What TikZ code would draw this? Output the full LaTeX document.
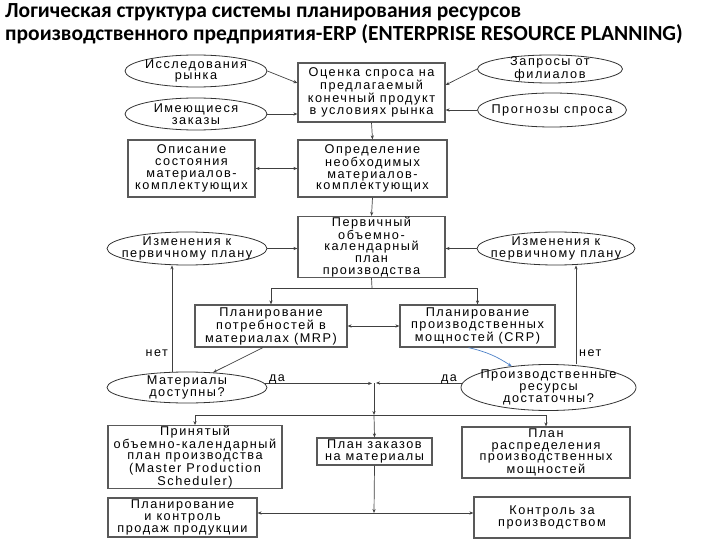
\documentclass[tikz,border=0pt]{standalone}
\usepackage{fontspec}
\setmainfont{Liberation Sans}
\newfontfamily\titlefont{Carlito}
\newfontfamily\diagfont[LetterSpace=12]{Liberation Sans}
\usetikzlibrary{shapes.geometric,arrows.meta,calc}
\definecolor{lineg}{rgb}{0.25,0.25,0.25}
\definecolor{crpblue}{rgb}{0.30,0.50,0.78}
\tikzset{
  txt/.style={font=\diagfont\fontsize{12.7}{11.8}\selectfont, align=center},
  boxn/.style={txt, draw=black!65, line width=1.2pt, fill=white, inner sep=0pt, minimum width=#1},
  elln/.style={txt, ellipse, draw=black!80, line width=0.8pt, fill=white, inner xsep=-40pt, inner ysep=-15pt},
  conn/.style={draw=lineg, line width=0.7pt},
  arr/.style={conn, -{Stealth[length=4pt,width=3.2pt]}},
  darr/.style={conn, {Stealth[length=4pt,width=3.2pt]}-{Stealth[length=4pt,width=3.2pt]}},
  lab/.style={font=\diagfont\fontsize{12.5}{13}\selectfont, inner sep=1pt},
}
\begin{document}
\begin{tikzpicture}[x=1pt,y=-1pt]
\useasboundingbox (0,0) rectangle (720,540);
% title
\node[anchor=north west, inner sep=0pt, align=left, font=\titlefont\bfseries\fontsize{21.5}{23}\selectfont] (title) at (5,3)
  {Логическая структура системы планирования ресурсов\\производственного предприятия-ERP (ENTERPRISE RESOURCE PLANNING)};
% top row
\node[elln, minimum width=142pt, minimum height=32pt] (m1) at (196,71) {Исследования\\рынка};
\node[elln, minimum width=142pt, minimum height=32pt] (m2) at (196,114) {Имеющиеся\\заказы};
\node[boxn=147pt, minimum height=59pt] (est) at (371.5,92.5) {Оценка спроса на\\предлагаемый\\конечный продукт\\в условиях рынка};
\node[elln, minimum width=145pt, minimum height=28pt] (f1) at (550,69) {Запросы от\\филиалов};
\node[elln, minimum width=149pt, minimum height=34pt] (f2) at (552,110) {Прогнозы спроса};
% second row
\node[boxn=127pt, minimum height=57pt] (opis) at (191.5,168.5) {Описание\\состояния\\материалов-\\комплектующих};
\node[boxn=149pt, minimum height=57pt] (opred) at (372.5,168.5) {Определение\\необходимых\\материалов-\\комплектующих};
% third row
\node[boxn=147pt, minimum height=61pt] (perv) at (371.5,247) {Первичный\\объемно-\\календарный\\план\\производства};
\node[elln, minimum width=160pt, minimum height=33pt] (chL) at (187,248.5) {Изменения к\\первичному плану};
\node[elln, minimum width=158pt, minimum height=33pt] (chR) at (556,248.5) {Изменения к\\первичному плану};
% MRP / CRP
\node[boxn=152pt, minimum height=42pt] (mrp) at (271,326) {Планирование\\потребностей в\\материалах (MRP)};
\node[boxn=155pt, minimum height=42pt] (crp) at (477.5,326) {Планирование\\производственных\\мощностей (CRP)};
% decisions
\node[elln, minimum width=160pt, minimum height=31pt] (matav) at (187,387.5) {Материалы\\доступны?};
\node[elln, minimum width=175pt, minimum height=46pt] (resok) at (548.5,387.5) {Производственные\\ресурсы\\достаточны?};
% results
\node[boxn=174pt, minimum height=61pt] (mps) at (195,457) {Принятый\\объемно-календарный\\план производства\\(Master Production\\Scheduler)};
\node[boxn=115pt, minimum height=27pt] (pzm) at (374.5,451.5) {План заказов\\на материалы};
\node[boxn=168pt, minimum height=51pt] (prm) at (546,452.5) {План\\распределения\\производственных\\мощностей};
\node[boxn=149pt, minimum height=39pt] (pks) at (182.5,517.5) {Планирование\\и контроль\\продаж продукции};
\node[boxn=156pt, minimum height=41pt] (kp) at (552,517.5) {Контроль за\\производством};
% junctions
\coordinate (j1) at (372,288);
\coordinate (jc) at (374,383);
\coordinate (jd) at (374,415);
\coordinate (je) at (374,513);
\coordinate (nL) at (172,0);
\coordinate (nR) at (576,0);
% connectors top
\draw[arr] (m1.east) -- ([yshift=9.5pt]est.west);
\draw[arr] (f1.west) -- ([yshift=7.5pt]est.east);
\draw[arr] (m2.east) -- (m2.east -| est.west);
\draw[arr] (f2.west) -- (f2.west -| est.east);
\draw[arr] (est.south) -- (opred.north);
\draw[darr] (opis.east) -- (opred.west);
\draw[arr] (opred.south) -- (perv.north);
\draw[arr] (chL.east) -- (chL.east -| perv.west);
\draw[arr] (chR.west) -- (chR.west -| perv.east);
\draw[conn] (perv.south) -- (j1);
\draw[arr] (j1) -| (mrp.north);
\draw[arr] (j1) -| (crp.north);
\draw[darr] (mrp.east) -- (crp.west);
% feedback loops
\draw[arr] (nL |- matav.north) -- (nL |- chL.south);
\node[lab, anchor=east] (netL) at (169,353) {нет};
\draw[arr] (nR |- resok.north) -- (nR |- chR.south);
\node[lab, anchor=west] (netR) at (578,353) {нет};
\draw[arr] ([xshift=-8pt]mrp.south) -- (matav.30);
\draw[arr, draw=crpblue] ([xshift=-9pt]crp.south) to[bend left=10] (resok.150);
% yes branches
\draw[arr] (matav.3) -- ([xshift=-2pt]matav.3 -| jc);
\draw[arr] (resok.177) -- ([xshift=2pt]resok.177 -| jc);
\node[lab, anchor=south west] (daL) at (268,385) {да};
\node[lab, anchor=south east] (daR) at (458,385) {да};
\draw[arr] (jc) -- (jd);
\draw[arr] (jd) -- (pzm.north);
\draw[arr] (jd) -| (mps.north);
\draw[arr] (jd) -| (prm.north);
\draw[arr] (pzm.south) -- (je);
\draw[arr] (je) -- (je -| pks.east);
\draw[arr] (je) -- (je -| kp.west);
\end{tikzpicture}
\end{document}
